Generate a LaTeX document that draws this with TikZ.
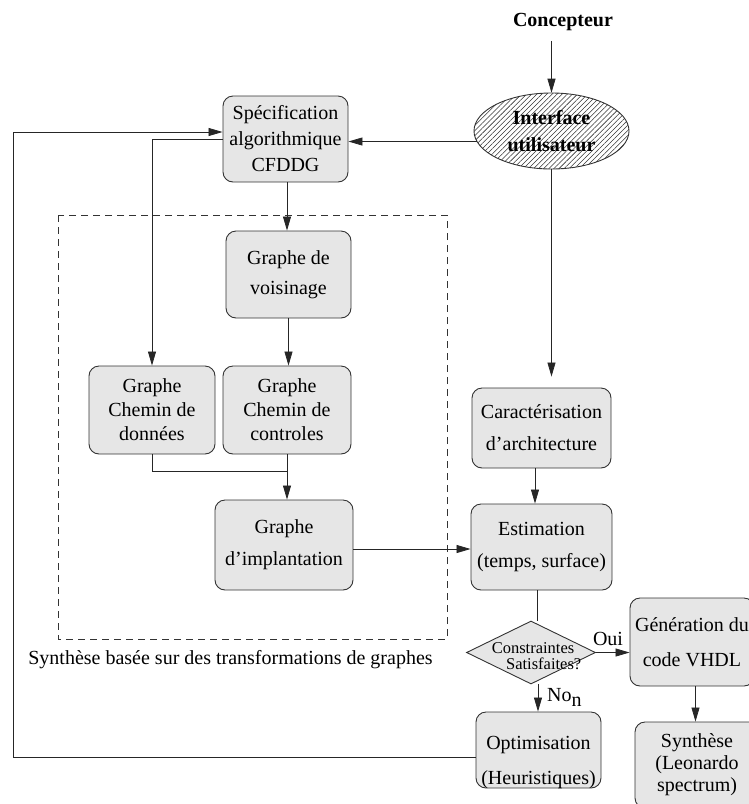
\documentclass[tikz,border=0pt]{standalone}
\usepackage{fontspec}
\setmainfont{Liberation Serif}
\usetikzlibrary{shapes.geometric,arrows.meta,patterns.meta}

\definecolor{boxgray}{HTML}{E6E6E6}
\definecolor{edgegray}{HTML}{333333}

\tikzset{
  box/.style={draw=edgegray, line width=0.9pt, fill=boxgray, rounded corners=10pt,
              align=center, inner sep=0pt, font=\fontsize{20}{32}\selectfont},
  conn/.style={draw=black!85, line width=0.8pt},
  arr/.style={conn, -{Triangle[length=14pt,width=8pt]}},
  lbl/.style={inner sep=0pt, font=\fontsize{20}{24}\selectfont},
}

\begin{document}
\begin{tikzpicture}[x=1pt,y=-1pt]
\useasboundingbox (0,0) rectangle (749,804);

% --- user side ---
\node[lbl, font=\fontsize{20}{24}\selectfont\bfseries] (concepteur) at (563,22) {Concepteur};
\node[ellipse, draw=edgegray, line width=0.9pt,
      pattern={Lines[angle=45, distance=3.6pt, line width=0.55pt]}, pattern color=black!80,
      minimum width=155pt, minimum height=76pt, inner sep=0pt, align=center,
      font=\fontsize{20}{27}\selectfont\bfseries] (iface) at (551.5,131) {Interface\\utilisateur};

% --- specification ---
\node[box, minimum width=125pt, minimum height=86pt, font=\fontsize{20}{26}\selectfont]
  (spec) at (285.5,139) {Sp\'ecification\\algorithmique\\CFDDG};

% --- graph transformations ---
\node[box, minimum width=125pt, minimum height=87pt, font=\fontsize{20}{30}\selectfont]
  (voisin) at (288.5,274.5) {Graphe de\\voisinage};
\node[box, minimum width=126pt, minimum height=88pt, font=\fontsize{20}{24}\selectfont]
  (donnees) at (152,410) {Graphe\\Chemin de\\donn\'ees};
\node[box, minimum width=128pt, minimum height=88pt, font=\fontsize{20}{24}\selectfont]
  (controles) at (287,410) {Graphe\\Chemin de\\controles};
\node[box, minimum width=138pt, minimum height=90pt]
  (impl) at (284,545) {Graphe\\d'implantation};

\draw[edgegray, line width=0.8pt, dash pattern=on 7pt off 5pt] (58,215) rectangle (447,639);
\node[lbl] (cadre) at (230.5,660) {Synth\`ese bas\'ee sur des transformations de graphes};

% --- architecture / estimation ---
\node[box, minimum width=139pt, minimum height=80pt]
  (caract) at (541.5,428) {Caract\'erisation\\d'architecture};
\node[box, minimum width=141pt, minimum height=86pt]
  (estim) at (541.5,547) {Estimation\\(temps, surface)};

\node[diamond, draw=edgegray, line width=0.9pt, fill=boxgray,
      minimum width=129pt, minimum height=63pt, inner sep=0pt] (test) at (531,652.5) {};
\node[inner sep=0pt, align=center, font=\fontsize{16.5}{15.5}\selectfont]
  (testtxt) at (533,656) {Constraintes\\\hspace*{1.3em}Satisfaites?};

\node[box, minimum width=124pt, minimum height=88pt, font=\fontsize{20}{35}\selectfont]
  (gen) at (692,642) {G\'en\'eration du\\code VHDL};
\node[box, minimum width=124pt, minimum height=86pt, font=\fontsize{20}{22}\selectfont]
  (synth) at (697,765) {Synth\`ese\\(Leonardo\\spectrum)};

\node[box, minimum width=125pt, minimum height=76pt] (optim) at (538.5,750) {};
\node[lbl, align=center, font=\fontsize{20}{35}\selectfont] (optimtxt) at (538.5,762)
  {Optimisation\\(Heuristiques)};

% --- connectors ---
\draw[arr] ([yshift=-10pt]iface.north |- concepteur.south) -- (iface.north);
\draw[arr] (iface.188) -- (iface.188 -| spec.east);
\draw[arr, shorten >=11pt] (iface.south) -- (iface.south |- caract.north);

\coordinate (fbk) at (13,132);
\draw[arr] ([yshift=-7pt]optim.west) -| (fbk) -- ([yshift=7pt]spec.west);
\draw[arr] (spec.west) -| (donnees.north);
\draw[arr] ([xshift=1.5pt]spec.south) -- ([xshift=1.5pt]spec.south |- voisin.north);
\draw[arr] (voisin.south) -- (voisin.south |- controles.north);

\coordinate (join) at (287,471);
\draw[conn] (donnees.south) |- (join);
\draw[arr] (controles.south) -- (controles.south |- impl.north);

\draw[arr] ([yshift=-4pt]impl.east) -- ([yshift=-4pt]impl.east -| estim.west);
\draw[arr] ([xshift=-6.5pt]caract.south) -- ([xshift=-6.5pt]caract.south |- estim.north);
\draw[conn] ([xshift=6pt]test.north |- estim.south) -- ([xshift=6pt]test.north);

\draw[arr] (test.east) -- (test.east -| gen.west);
\node[lbl] (oui) at (608,639) {Oui};
\draw[arr] ([xshift=7pt]test.south) -- ([xshift=7pt]test.south |- optim.north);
\node[lbl, anchor=west] (non) at (547,697) {No\raisebox{-5pt}{n}};
\draw[arr] ([xshift=3.5pt]gen.south) -- ([xshift=3.5pt]gen.south |- synth.north);
\end{tikzpicture}
\end{document}
